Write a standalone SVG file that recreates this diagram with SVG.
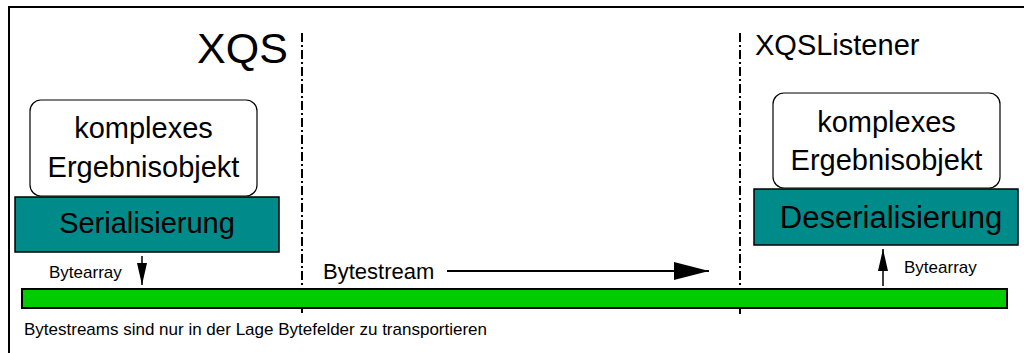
<svg xmlns="http://www.w3.org/2000/svg" width="1024" height="353" viewBox="0 0 1024 353">
  <style>
    text { font-family: "Liberation Sans", Arial, sans-serif; fill: #000; }
    .obj { fill: #fff; stroke: #000; stroke-width: 1.2; }
    .proc { fill: #008b8b; stroke: #000; stroke-width: 1.5; }
    .big { font-size: 29px; text-anchor: middle; }
    .small { font-size: 17px; }
    .sep { stroke: #000; stroke-width: 2; stroke-dasharray: 9 3 2 3; fill: none; }
    .conn { stroke: #000; stroke-width: 2; fill: none; }
  </style>
  <defs>
    <marker id="head" viewBox="0 0 22 10" refX="22" refY="5" markerWidth="22" markerHeight="10" markerUnits="userSpaceOnUse" orient="auto">
      <path d="M0,0 L22,5 L0,10 Z" fill="#000"/>
    </marker>
    <marker id="headLong" viewBox="0 0 35 18" refX="35" refY="9" markerWidth="35" markerHeight="18" markerUnits="userSpaceOnUse" orient="auto">
      <path d="M0,0 L35,9 L0,18 Z" fill="#000"/>
    </marker>
  </defs>

  <!-- outer frame (open to the right and bottom) -->
  <path d="M9,360 L9,7 L1030,7" fill="none" stroke="#000" stroke-width="2"/>

  <!-- side separators -->
  <line class="sep" x1="302" y1="33" x2="302" y2="313"/>
  <line class="sep" x1="740" y1="33" x2="740" y2="317"/>

  <text x="197" y="63" style="font-size:43px">XQS</text>
  <text x="755" y="55" style="font-size:29px">XQSListener</text>

  <!-- byte stream bar -->
  <g id="bytestream-bar">
    <rect x="22" y="289" width="985" height="19" fill="#00cc00" stroke="#000" stroke-width="2"/>
  </g>

  <g id="sender-object">
    <rect class="obj" x="30" y="100" width="227" height="96" rx="11"/>
    <text class="big" x="143.5" y="138">komplexes</text>
    <text class="big" x="143.5" y="177">Ergebnisobjekt</text>
  </g>
  <g id="serialisierung">
    <rect class="proc" x="15" y="197" width="264" height="55"/>
    <text class="big" x="147" y="233">Serialisierung</text>
  </g>

  <g id="receiver-object">
    <rect class="obj" x="773" y="93" width="227" height="95" rx="11"/>
    <text class="big" x="886.5" y="132">komplexes</text>
    <text class="big" x="886.5" y="170">Ergebnisobjekt</text>
  </g>
  <g id="deserialisierung">
    <rect class="proc" x="754" y="189" width="264" height="56"/>
    <text class="big" x="891" y="228" style="font-size:31px">Deserialisierung</text>
  </g>

  <g id="connectors">
    <line class="conn" x1="142" y1="256" x2="142" y2="285" style="stroke-width:1.5" marker-end="url(#head)"/>
    <line class="conn" x1="883" y1="286" x2="883" y2="249" style="stroke-width:1.5" marker-end="url(#head)"/>
    <line class="conn" x1="447" y1="271" x2="709" y2="271" marker-end="url(#headLong)"/>
  </g>

  <text class="small" x="49" y="278">Bytearray</text>
  <text class="small" x="904" y="273">Bytearray</text>
  <text x="323" y="279" style="font-size:22px">Bytestream</text>
  <text class="small" x="24" y="335">Bytestreams sind nur in der Lage Bytefelder zu transportieren</text>
</svg>
